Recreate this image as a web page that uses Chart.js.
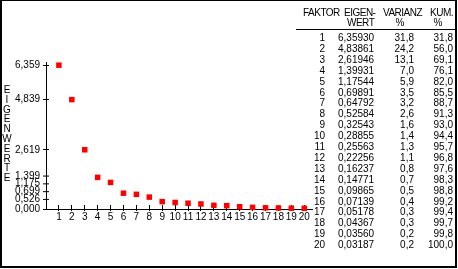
<!DOCTYPE html>
<html>
<head>
<meta charset="utf-8">
<script src="https://cdn.jsdelivr.net/npm/chart.js@4"></script>
<style>
  body { margin: 0; background: #fff; }
  #wrap { position: relative; width: 458px; height: 269px; font-family: "Liberation Sans", Arial, sans-serif; font-size: 10px; color: #000; }
  #frame { position: absolute; left: 0; top: 0; width: 457px; height: 268px; box-sizing: border-box; border: 2px solid #000; border-top-width: 1px; pointer-events: none; }
  #ytitle { position: absolute; left: 2px; top: 85px; width: 10px; text-align: center; line-height: 9.8px; }
  #table { position: absolute; left: 0; top: 0; width: 458px; height: 269px; }
  .c { position: absolute; white-space: nowrap; line-height: 10px; }
  .h { letter-spacing: -0.5px; }
  #hline { position: absolute; left: 296px; top: 29px; width: 160px; height: 1px; background: #000; }
</style>
</head>
<body>
<div id="wrap">
  <canvas id="scree" width="458" height="269"></canvas>
  <div id="ytitle"></div>
  <div id="table"></div>
  <div id="hline"></div>
  <div id="frame"></div>
</div>
<script>
// Faktoren und Eigenwerte
const factors = [1, 2, 3, 4, 5, 6, 7, 8, 9, 10, 11, 12, 13, 14, 15, 16, 17, 18, 19, 20];
const eigenvalues = [6.35930, 4.83861, 2.61946, 1.39931, 1.17544, 0.69891, 0.64792, 0.52584, 0.32543, 0.28855,
  0.25563, 0.22256, 0.16237, 0.14771, 0.09865, 0.07139, 0.05178, 0.04367, 0.03560, 0.03187];
const variance = [31.8, 24.2, 13.1, 7.0, 5.9, 3.5, 3.2, 2.6, 1.6, 1.4, 1.3, 1.1, 0.8, 0.7, 0.5, 0.4, 0.3, 0.3, 0.2, 0.2];
const cumulative = [31.8, 56.0, 69.1, 76.1, 82.0, 85.5, 88.7, 91.3, 93.0, 94.4, 95.7, 96.8, 97.6, 98.3, 98.8, 99.2, 99.4, 99.7, 99.8, 100.0];
const yTicks = [0, 0.526, 0.699, 1.175, 1.399, 2.619, 4.839, 6.359];
const yTitle = "EIGENWERTE";

const komma = (v, d) => v.toFixed(d).replace(".", ",");

// Achsentitel, Buchstaben untereinander
document.getElementById("ytitle").innerHTML = yTitle.split("").join("<br>");

// Tabelle rechts
const table = document.getElementById("table");
function cell(text, x, y, align, cls) {
  const el = document.createElement("div");
  el.className = "c" + (cls ? " " + cls : "");
  el.textContent = text;
  el.style.top = (y - 5) + "px";
  if (align === "right") el.style.right = (458 - x) + "px";
  else if (align === "center") { el.style.left = (x - 10) + "px"; el.style.width = "20px"; el.style.textAlign = "center"; }
  else el.style.left = x + "px";
  table.appendChild(el);
}
cell("FAKTOR", 303, 13, "left", "h");
cell("EIGEN-", 344, 13, "left", "h");
cell("WERT", 347, 23, "left", "h");
cell("VARIANZ", 383, 13, "left", "h");
cell("%", 400, 23, "center");
cell("KUM.", 430, 13, "left", "h");
cell("%", 438, 23, "center");
factors.forEach((f, i) => {
  const y = 38 + i * 10.9;
  cell(String(f), 325, y, "right");
  cell(komma(eigenvalues[i], 5), 338, y);
  cell(komma(variance[i], 1), 414, y, "right");
  cell(komma(cumulative[i], 1), 453, y, "right");
});

// eng liegende Beschriftungen auseinanderschieben (wie im Original)
function spread(ys, gap) {
  const out = ys.slice();
  for (let k = 0; k < 60; k++) {
    for (let i = 1; i < out.length; i++) {
      const d = out[i - 1] - out[i];
      if (d < gap) {
        if (i === 1) out[i] -= gap - d;
        else { out[i - 1] += (gap - d) / 2; out[i] -= (gap - d) / 2; }
      }
    }
  }
  return out;
}
function spreadScale(s) {
  if (s._spread) return;
  s._spread = true;
  const labels = s._computeLabelItems.bind(s);
  s._computeLabelItems = (area) => {
    const items = labels(area);
    const ys = spread(items.map((it) => it.options.translation[1]), 7.8);
    items.forEach((it, i) => { it.options.translation[1] = ys[i]; });
    return items;
  };
  const grid = s._computeGridLineItems.bind(s);
  s._computeGridLineItems = (area) => {
    const items = grid(area);
    const ys = spread(items.map((it) => it.ty1), 7.8);
    items.forEach((it, i) => { it.ty1 = it.ty2 = it.y1 = it.y2 = ys[i]; });
    return items;
  };
}

const black = "#000";
const tickFont = { family: "Liberation Sans", size: 10 };

const ctx = document.getElementById("scree").getContext("2d");
const scree = new Chart(ctx, {
  type: "scatter",
  data: {
    datasets: [{
      data: factors.map((f, i) => ({ x: f, y: eigenvalues[i] })),
      backgroundColor: "#ff0000",
      borderWidth: 0,
      pointStyle: "rect",
      pointRadius: 3.9,
      clip: false,
    }],
  },
  options: {
    responsive: false,
    animation: false,
    events: [],
    layout: { padding: { left: 0, right: 146, top: 62, bottom: 40 } },
    plugins: { legend: { display: false }, tooltip: { enabled: false } },
    scales: {
      x: {
        type: "linear", min: 0, max: 20.6, weight: 1,
        afterBuildTicks: (s) => { s.ticks = factors.map((v) => ({ value: v })); },
        afterFit: (s) => { s.height = 20; },
        border: { display: true, color: black, width: 1 },
        grid: { drawOnChartArea: false, color: black, tickLength: 2 },
        ticks: { color: black, font: tickFont, padding: 0, maxRotation: 0, autoSkip: false },
      },
      x2: {
        type: "linear", position: "bottom", min: 0, max: 20.6, weight: 0,
        afterBuildTicks: (s) => { s.ticks = factors.map((v) => ({ value: v })); },
        afterFit: (s) => { s.height = 0; },
        border: { display: false },
        grid: { drawOnChartArea: false, color: black, tickLength: -4 },
        ticks: { display: false },
      },
      y: {
        type: "linear", min: 0, max: 6.5, weight: 1,
        afterBuildTicks: (s) => { s.ticks = yTicks.map((v) => ({ value: v })); spreadScale(s); },
        afterFit: (s) => { s.width = 46; },
        border: { display: true, color: black, width: 1 },
        grid: { drawOnChartArea: false, color: black, tickLength: 3 },
        ticks: { color: black, font: tickFont, padding: 3, autoSkip: false, callback: (v) => komma(v, 3) },
      },
      y2: {
        type: "linear", position: "left", min: 0, max: 6.5, weight: 0,
        afterBuildTicks: (s) => { s.ticks = yTicks.map((v) => ({ value: v })); spreadScale(s); },
        afterFit: (s) => { s.width = 0; },
        border: { display: false },
        grid: { drawOnChartArea: false, color: black, tickLength: -3 },
        ticks: { display: false },
      },
    },
  },
});
</script>
</body>
</html>
